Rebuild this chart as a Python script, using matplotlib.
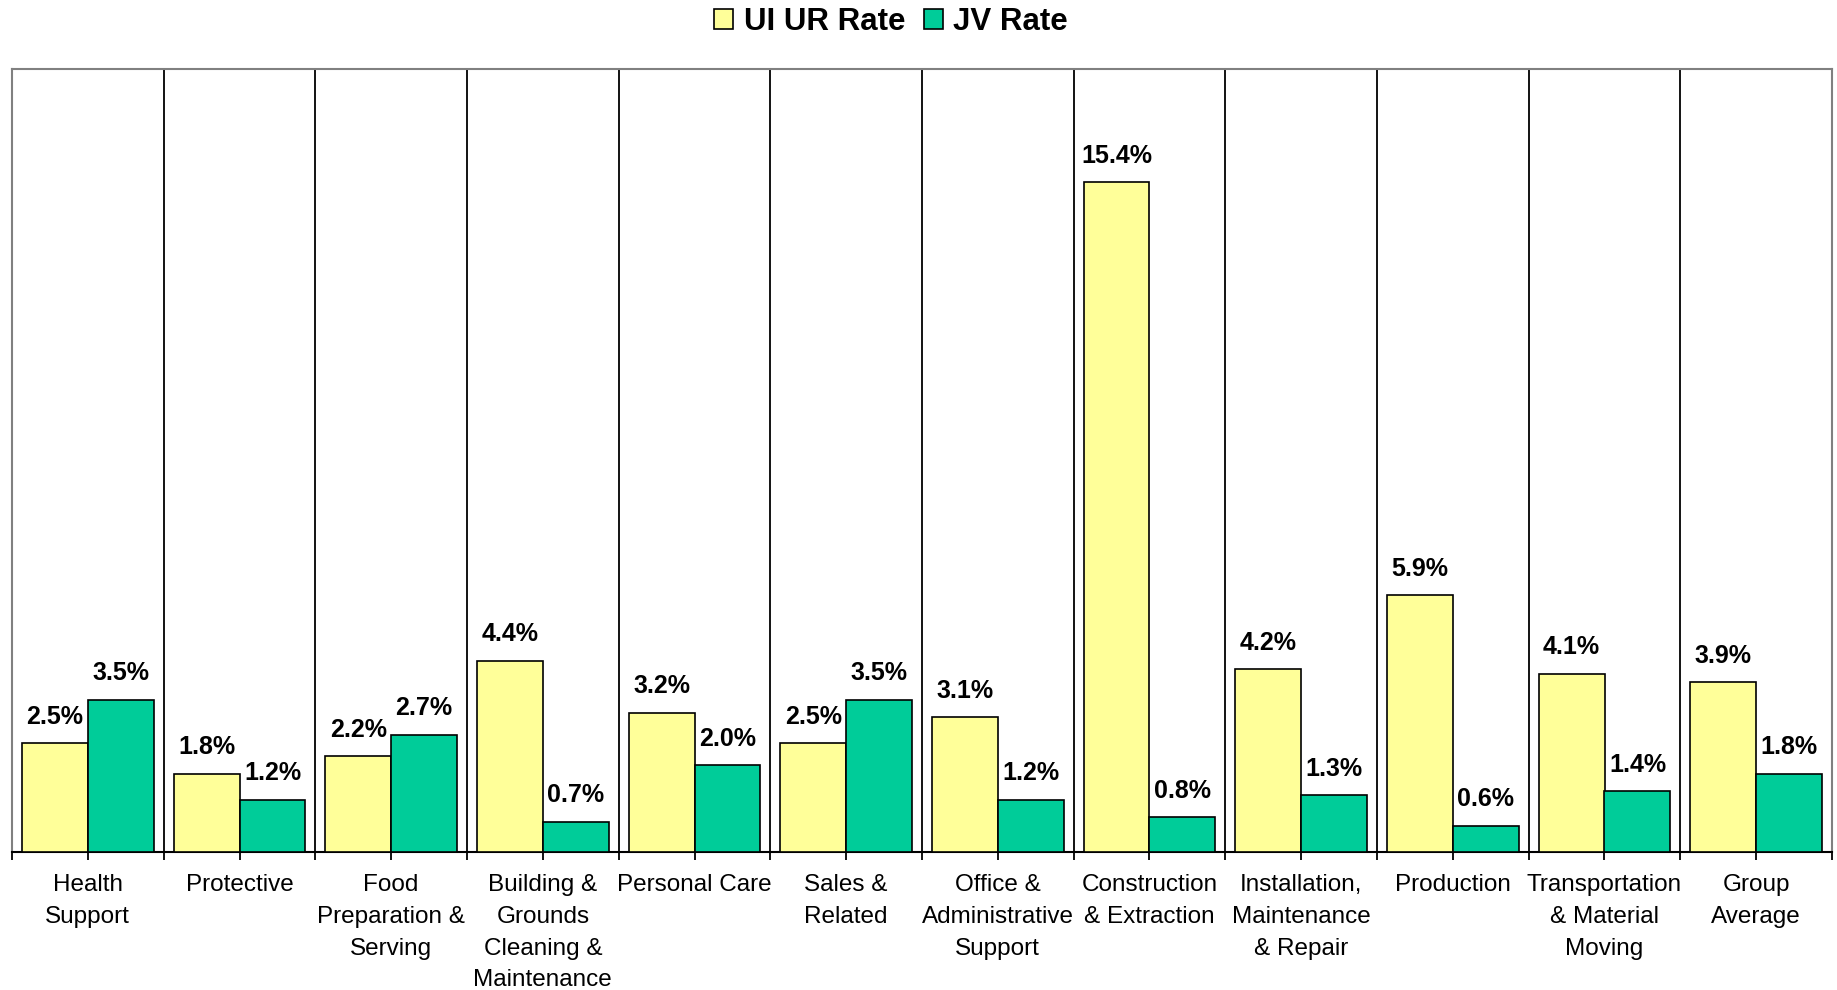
import matplotlib
matplotlib.use("Agg")
import matplotlib.pyplot as plt
from matplotlib.patches import Patch
import numpy as np

plt.rcParams['font.family'] = ['Liberation Sans', 'DejaVu Sans']

categories = ["Health\nSupport", "Protective", "Food\nPreparation &\nServing",
              "Building &\nGrounds\nCleaning &\nMaintenance", "Personal Care",
              "Sales &\nRelated", "Office &\nAdministrative\nSupport",
              "Construction\n& Extraction", "Installation,\nMaintenance\n& Repair",
              "Production", "Transportation\n& Material\nMoving", "Group\nAverage"]
ui_ur_rate = [2.5, 1.8, 2.2, 4.4, 3.2, 2.5, 3.1, 15.4, 4.2, 5.9, 4.1, 3.9]
jv_rate = [3.5, 1.2, 2.7, 0.7, 2.0, 3.5, 1.2, 0.8, 1.3, 0.6, 1.4, 1.8]

yellow = "#FFFF99"
green = "#00CC99"
grey = "#808080"

fig = plt.figure(figsize=(18.37, 9.9), dpi=100)
ax = fig.add_axes([12/1837, (990-852)/990, (1832-12)/1837, (852-69)/990])

x = np.arange(len(categories))
w = 0.435
b1 = ax.bar(x - w/2, ui_ur_rate, w, color=yellow, edgecolor="black", linewidth=1.2, zorder=3)
b2 = ax.bar(x + w/2, jv_rate, w, color=green, edgecolor="black", linewidth=1.2, zorder=3)

for bars, vals in [(b1, ui_ur_rate), (b2, jv_rate)]:
    for r, v in zip(bars, vals):
        ax.annotate(f"{v:.1f}%", (r.get_x() + r.get_width()/2, v),
                    xytext=(0, 14), textcoords="offset points",
                    ha="center", va="baseline", fontsize=18, fontweight="bold")

# group dividers
for i in range(len(categories) - 1):
    ax.axvline(i + 0.5, color="black", linewidth=1.3, zorder=2)

ax.set_xlim(-0.5, len(categories) - 0.5)
ax.set_ylim(0, 18)
ax.set_yticks([])

ax.set_xticks(x)
ax.set_xticklabels(categories, fontsize=17.5, linespacing=1.57)
ax.set_xticks(np.arange(-0.5, len(categories), 1), minor=True)
ax.tick_params(axis="x", which="both", direction="out", length=6, width=1.3, color="black")
ax.tick_params(axis="x", which="major", pad=10)

for s in ["left", "right", "top"]:
    ax.spines[s].set_color(grey)
    ax.spines[s].set_linewidth(1.5)
ax.spines["bottom"].set_color("black")
ax.spines["bottom"].set_linewidth(1.5)

handles = [Patch(facecolor=yellow, edgecolor="black", linewidth=1.2, label="UI UR Rate"),
           Patch(facecolor=green, edgecolor="black", linewidth=1.2, label="JV Rate")]
fig.legend(handles=handles, loc="center", bbox_to_anchor=(891/1837, 1 - 22/990), ncol=2,
           frameon=False, prop={"weight": "bold", "size": 22.5},
           handlelength=0.6, handleheight=0.6, handletextpad=0.35, columnspacing=0.6)

fig.savefig("out.png", dpi=100)
